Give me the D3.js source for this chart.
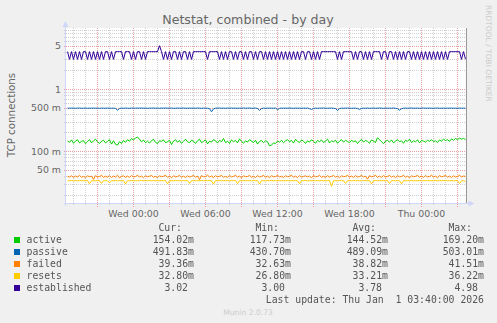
<!DOCTYPE html>
<html><head><meta charset="utf-8">
<script src="https://cdn.jsdelivr.net/npm/d3@7"></script>
<style>
body{margin:0;background:#f0f0f0}
#wrap{position:relative;width:497px;height:323px}
svg{display:block;position:absolute;left:0;top:0}
#t{filter:grayscale(1)}
text{font-family:"DejaVu Sans",sans-serif}
.mono{font-family:"DejaVu Sans Mono",monospace;white-space:pre}
</style>
</head><body>
<div id="wrap"><svg id="c" width="497" height="323"></svg><svg id="t" width="497" height="323"></svg></div>
<script>
const title = "Netstat, combined - by day";
const yLabel = "TCP connections";
const watermark = "RRDTOOL / TOBI OETIKER";
const footer = "Munin 2.0.73";
const lastUpdate = "Last update: Thu Jan  1 03:40:00 2026";
const startTime = Date.UTC(2025, 11, 30, 18, 20);
const endTime = Date.UTC(2026, 0, 1, 3, 40);
const stepMs = 10 * 60 * 1000;
const yDomain = [0.0144, 9.6];
const yTickValues = [5, 1, 0.5, 0.1, 0.05];
const yTickLabels = ["5", "1", "500 m", "100 m", "50 m"];
const seriesNames = ["active", "passive", "failed", "resets", "established"];
const seriesColors = ["#00CC00", "#0066B3", "#FF8000", "#FFCC00", "#330099"];
const statHeaders = ["Cur:", "Min:", "Avg:", "Max:"];
const statCur = ["154.02m", "491.83m", "39.36m", "32.80m", "3.02"];
const statMin = ["117.73m", "430.70m", "32.63m", "26.80m", "3.00"];
const statAvg = ["144.52m", "489.09m", "38.82m", "33.21m", "3.78"];
const statMax = ["169.20m", "503.01m", "41.51m", "36.22m", "4.98"];

// values in milli-units (m) except established
const active = [
146,139,152,134,145,153,136,144,148,132,142,154,136,147,156,142,133,145,150,136,
144,153,130,147,129,125,142,133,149,139,153,145,160,151,164,169,156,142,151,137,
145,135,148,155,139,132,147,144,152,137,142,150,128,145,153,140,148,134,144,156,
142,137,150,145,133,147,156,137,144,152,131,145,140,153,147,135,149,142,160,137,
145,133,152,142,149,136,158,144,134,147,140,153,145,138,150,130,144,149,137,147,
142,122,125,136,133,145,140,150,137,147,153,142,149,135,156,144,138,152,145,133,
147,140,153,144,134,149,142,152,138,145,156,136,147,142,150,134,145,153,140,149,
144,137,150,142,147,133,145,155,140,149,144,134,152,145,138,165,153,142,132,145,
149,140,152,136,145,153,142,147,134,150,144,156,138,147,142,152,136,149,145,140,
150,144,153,142,147,138,152,145,156,149,153,144,158,150,160,153,163,156,161,154];
const passive = [
493,491,494,492,490,493,495,491,492,494,490,493,492,495,491,493,490,494,492,491,
494,492,490,493,488,455,487,493,491,494,492,490,495,493,491,494,492,496,491,493,
490,494,492,495,491,493,490,494,492,496,491,493,495,490,492,494,491,493,495,492,
490,494,492,493,491,495,492,490,494,492,490,484,431,480,492,493,495,491,493,490,
494,492,495,491,493,490,494,492,496,491,493,495,490,492,494,488,452,486,493,490,
494,492,493,491,495,466,488,494,492,493,491,495,492,490,494,492,493,490,493,491,
494,485,468,488,493,490,494,492,496,491,490,493,495,490,487,450,484,494,491,493,
495,492,490,494,492,488,470,489,493,491,495,490,492,494,491,493,495,492,490,494,
492,493,491,495,490,485,456,484,492,494,490,493,495,491,492,494,490,493,495,492,
491,494,492,490,493,495,491,492,494,490,493,492,495,491,493,490,494,492,493,492];
const failed = [
39.5,38.2,40.3,37.8,39.9,38.6,40.8,38.1,39.4,37.5,40.1,38.9,39.7,35.2,40.5,38.4,39.2,40.9,38.0,39.6,
38.3,40.4,37.7,39.8,38.5,41.0,37.2,39.3,40.2,38.1,39.7,37.9,40.6,38.7,39.1,41.2,38.2,39.9,37.4,40.3,
38.8,39.6,40.7,38.3,39.2,37.6,40.1,38.9,39.5,41.1,38.0,39.8,37.3,40.4,38.6,39.3,40.8,38.1,39.7,37.8,
40.2,38.5,39.4,40.9,38.2,39.8,34.8,40.5,38.7,39.2,41.3,38.4,39.9,37.6,40.3,38.8,39.5,40.6,38.0,39.3,
37.9,40.7,38.6,39.4,41.0,38.3,39.7,37.5,40.2,38.9,39.1,40.8,38.2,39.6,37.7,40.4,38.5,39.3,41.1,38.1,
39.8,37.4,40.5,38.7,39.2,40.9,38.4,39.6,37.8,40.3,38.9,39.5,41.2,38.0,39.7,37.6,40.6,38.3,39.4,40.1,
38.6,39.9,37.3,40.7,38.8,39.2,41.0,38.1,39.6,37.9,40.4,38.5,39.3,40.8,38.2,39.7,37.5,40.2,38.9,39.4,
41.1,38.3,39.8,37.7,40.5,38.6,39.1,40.9,38.4,39.6,35.5,40.3,38.8,39.5,41.2,38.0,39.7,37.8,40.6,38.5,
39.3,40.7,38.2,39.9,37.6,40.4,38.7,39.2,41.0,38.1,39.6,37.5,40.2,38.9,39.4,40.8,38.3,39.8,37.9,40.5,
38.6,39.2,41.1,38.4,39.7,37.3,40.6,38.8,39.5,40.9,38.2,39.6,37.7,40.3,38.5,39.1,41.0,38.7,39.8,39.4];
const resets = [
33.6,33.5,33.7,33.4,33.6,33.5,33.8,33.4,33.6,33.5,33.7,29.8,33.5,33.6,33.4,33.7,33.5,30.4,33.6,33.5,
33.4,30.9,33.6,33.5,33.7,33.4,33.6,33.5,33.8,29.6,33.4,33.6,33.5,33.7,33.4,33.6,33.5,33.8,33.4,33.6,
33.5,33.7,33.4,33.6,33.5,33.8,33.4,33.6,33.5,33.7,29.9,33.5,33.6,33.4,33.7,33.5,33.6,33.4,33.8,33.5,
33.6,30.2,33.5,33.7,33.4,33.6,33.5,33.8,33.4,33.6,33.5,33.7,33.4,29.5,33.6,33.5,33.8,33.4,33.6,33.5,
33.7,33.4,33.6,33.5,33.8,30.1,33.5,33.6,33.4,33.7,33.5,33.6,33.4,33.8,33.5,33.6,29.7,33.5,33.7,33.4,
33.6,33.5,33.8,33.4,33.6,33.5,33.7,33.4,33.6,33.5,33.8,33.4,33.6,33.5,33.7,33.4,30.0,33.6,33.5,33.8,
33.4,33.6,33.5,33.7,33.4,33.6,33.5,33.8,33.4,33.6,33.5,33.7,27.2,33.4,33.6,33.5,33.8,33.4,33.6,30.3,
33.5,33.7,33.4,33.6,33.5,33.8,33.4,33.6,33.5,33.7,33.4,33.6,29.9,33.5,33.8,33.4,33.6,33.5,33.7,33.4,
33.6,30.4,33.5,33.8,33.4,33.6,33.5,29.8,33.7,33.4,33.6,33.5,33.8,33.4,33.6,33.5,33.7,33.4,33.6,33.5,
33.8,33.4,33.6,33.5,33.7,33.4,33.6,33.5,33.8,33.4,33.6,33.5,33.7,33.4,33.6,33.5,30.2,33.4,33.6,32.8];
const established = [
4,3,4,3,4,3,4,3,4,4,3,4,3,4,3,4,3,4,3,4,4,3,4,3,4,4,
4,4, 3, 4,4,4,
3,4,3,4,4,3,4,3,4,4,
4,4,4,4, 4.98,
4,3,4,3,4,3,4,4,3,4,3,4,4,3,4,3,4,
4,4,4,4,4,4, 3, 4,4,4,4,4,
3,4,3,4,3,4,4,3,4,3,4, 4,
3,4,3,4,4,3,4,3,4,4,3,4,
3,4,3,4,3,4,3,4,3,4,3,4,3,4,3,4,3,4,4,3,4,4,3,
4,3,4,3,4,4,4, 4,4,4,4,4, 3,4,3,4, 4,4,4,4,
3,4,3,4,4,3,4,3,4,3,4, 4,4,4, 3,4,4,3,4, 4,
3,4,3,4,3,4,3,4,4,
3,4,3,4,3,4,3,4,3,4,3,4,3,4,3,4,3,4,3,4,
4,4,4,4,4, 3,4,3.02];

const svg = d3.select("#c");
const tsvg = d3.select("#t");
const L = 65.5, R = 465.5, T = 28, B = 203.5;
const x = d3.scaleUtc().domain([new Date(startTime), new Date(endTime)]).range([L, R]);
const y = d3.scaleLog().domain(yDomain).range([B, T]);

// plot canvas
svg.append("rect").attr("x", L).attr("y", T).attr("width", R - L).attr("height", B - T).attr("fill", "#fff");

// horizontal minor grid
const minorY = [];
for (let e = -2; e <= 0; e++) for (let m = 1; m <= 9; m++) {
  const v = m * Math.pow(10, e);
  if (v >= yDomain[0] && v <= yDomain[1] && !yTickValues.some(t => Math.abs(t - v) < 1e-9)) minorY.push(v);
}
const g = svg.append("g").attr("shape-rendering", "crispEdges");
g.selectAll(".hmin").data(minorY).join("line")
  .attr("x1", L - 2).attr("x2", R + 2)
  .attr("y1", d => Math.round(y(d)) + 0.5).attr("y2", d => Math.round(y(d)) + 0.5)
  .attr("stroke", "#cfcfcf").attr("stroke-dasharray", "1,1");
// vertical minor grid
const hours = d3.utcHour.every(1).range(new Date(startTime), new Date(endTime));
g.selectAll(".vmin").data(hours.filter(d => d.getUTCHours() % 3 !== 0)).join("line")
  .attr("x1", d => Math.round(x(d) - 0.5) + 0.5).attr("x2", d => Math.round(x(d) - 0.5) + 0.5)
  .attr("y1", T).attr("y2", B + 2)
  .attr("stroke", "#cfcfcf").attr("stroke-dasharray", "1,1");
// major grid
g.selectAll(".hmaj").data(yTickValues).join("line")
  .attr("x1", L - 2).attr("x2", R + 2)
  .attr("y1", d => Math.round(y(d)) + 0.5).attr("y2", d => Math.round(y(d)) + 0.5)
  .attr("stroke", "#eaa0a0").attr("stroke-dasharray", "1,1");
g.selectAll(".vmaj").data(hours.filter(d => d.getUTCHours() % 3 === 0)).join("line")
  .attr("x1", d => Math.round(x(d) - 0.5) + 0.5).attr("x2", d => Math.round(x(d) - 0.5) + 0.5)
  .attr("y1", T).attr("y2", B + 3)
  .attr("stroke", "#eaa0a0").attr("stroke-dasharray", "1,1");

// series lines
const all = [active.map(v => v / 1000), passive.map(v => v / 1000), failed.map(v => v / 1000), resets.map(v => v / 1000), established];
const line = d3.line().x((d, i) => x(new Date(startTime + (i + 1) * stepMs))).y(d => y(d));
all.forEach((s, k) => {
  svg.append("path").datum(s).attr("d", line).attr("fill", "none")
    .attr("stroke", seriesColors[k]).attr("stroke-width", 1);
});

// axes
const ax = svg.append("g");
ax.append("line").attr("x1", L).attr("x2", L).attr("y1", B + 2).attr("y2", T - 4).attr("stroke", "#CFD6F8").attr("shape-rendering", "crispEdges");
ax.append("path").attr("d", `M${L - 3},${T - 1}L${L + 3},${T - 1}L${L},${T - 7}Z`).attr("fill", "#CFD6F8");
ax.append("line").attr("x1", L - 2).attr("x2", R + 5).attr("y1", B).attr("y2", B).attr("stroke", "#CFD6F8").attr("shape-rendering", "crispEdges");
ax.append("path").attr("d", `M${R + 3},${B - 3}L${R + 3},${B + 3}L${R + 9},${B}Z`).attr("fill", "#CFD6F8");
ax.append("line").attr("x1", R + 1).attr("x2", R + 1).attr("y1", T).attr("y2", B - 0.5).attr("stroke", "#999").attr("shape-rendering", "crispEdges");

// y tick labels
svg.selectAll(".yl").data(yTickValues).join("text")
  .attr("x", 61).attr("y", d => y(d) + 3.5).attr("text-anchor", "end")
  .attr("font-size", "9.4px").attr("fill", "#666").text((d, i) => yTickLabels[i]);
// x tick labels
const labelTicks = d3.utcHour.every(6).range(new Date(startTime), new Date(endTime));
const fmt = d3.utcFormat("%a %H:%M");
svg.selectAll(".xl").data(labelTicks).join("text")
  .attr("x", d => x(d)).attr("y", 217).attr("text-anchor", "middle")
  .attr("font-size", "9.4px").attr("fill", "#666").text(d => fmt(d));

// title & labels
svg.append("text").attr("x", 248).attr("y", 24).attr("text-anchor", "middle")
  .attr("font-size", "12.6px").attr("fill", "#666").text(title);
svg.append("text").attr("transform", "translate(15,115) rotate(-90)").attr("text-anchor", "middle")
  .attr("font-size", "10.3px").attr("fill", "#666").text(yLabel);
svg.append("text").attr("transform", "translate(486,5) rotate(90)").attr("text-anchor", "start")
  .attr("font-size", "7.5px").attr("fill", "#cccccc").text(watermark);
svg.append("text").attr("x", 248).attr("y", 315).attr("text-anchor", "middle")
  .attr("font-size", "7.6px").attr("fill", "#cccccc").text(footer);

// legend
const colEnds = [194, 291, 388, 484];
const lg = tsvg.append("g").attr("class", "mono").attr("font-size", "9.8px").attr("fill", "#555");
statHeaders.forEach((h, j) => {
  lg.append("text").attr("class", "mono").attr("x", colEnds[j] - 12).attr("y", 231).attr("text-anchor", "end").text(h);
});
const stats = [statCur, statMin, statAvg, statMax];
seriesNames.forEach((n, k) => {
  const by = 243 + k * 12;
  svg.append("rect").attr("x", 14).attr("y", by - 6).attr("width", 6).attr("height", 6).attr("fill", seriesColors[k]);
  lg.append("text").attr("class", "mono").attr("x", 26.5).attr("y", by).text(n);
  stats.forEach((arr, j) => {
    const v = arr[k];
    const shift = /[a-zA-Z]$/.test(v) ? 0 : 6;
    lg.append("text").attr("class", "mono").attr("x", colEnds[j] - shift).attr("y", by).attr("text-anchor", "end").text(v);
  });
});
lg.append("text").attr("class", "mono").attr("x", 484).attr("y", 303).attr("text-anchor", "end").text(lastUpdate);
</script>
</body></html>
